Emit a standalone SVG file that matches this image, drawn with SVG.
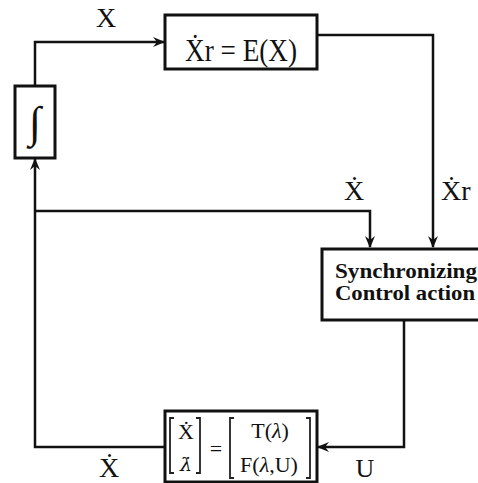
<svg xmlns="http://www.w3.org/2000/svg" width="478" height="483" viewBox="0 0 478 483">
<style>
.box{fill:#fff;stroke:#111;stroke-width:3}
.ln{fill:none;stroke:#111;stroke-width:2.5}
.t{font-family:"Liberation Serif","DejaVu Serif",serif;fill:#111}
.b{font-family:"Liberation Serif","DejaVu Serif",serif;font-weight:bold;fill:#111;font-size:20px}
.br{fill:none;stroke:#222;stroke-width:1.8}
</style>
<defs>
<marker id="ah" viewBox="0 0 12 10" refX="11" refY="5" markerWidth="12" markerHeight="10" markerUnits="userSpaceOnUse" orient="auto">
<path d="M0,0 L12,5 L0,10 L4,5 z" fill="#111"/>
</marker>
</defs>
<g id="connectors">
<path class="ln" d="M35,86 V42 H164" marker-end="url(#ah)"/>
<path class="ln" d="M317,35 H433 V247" marker-end="url(#ah)"/>
<path class="ln" d="M165,447 H35 V159" marker-end="url(#ah)"/>
<path class="ln" d="M35,211 H370 V247" marker-end="url(#ah)"/>
<path class="ln" d="M404,321 V447 H318" marker-end="url(#ah)"/>
</g>
<g id="labels">
<text class="t" x="106" y="27" font-size="28" text-anchor="middle">X</text>
<text class="t" x="354" y="200" font-size="28" text-anchor="middle">Ẋ</text>
<text class="t" x="441" y="200" font-size="28">Ẋr</text>
<text class="t" x="365" y="477" font-size="26" text-anchor="middle">U</text>
<text class="t" x="109" y="477" font-size="28" text-anchor="middle">Ẋ</text>
</g>
<g id="node-model">
<rect class="box" x="165" y="15" width="152" height="54"/>
<text class="t" x="241" y="61" font-size="31" text-anchor="middle" textLength="112" lengthAdjust="spacingAndGlyphs">Ẋr = E(X)</text>
</g>
<g id="node-integral">
<rect class="box" x="15" y="86" width="40" height="72"/>
<text class="t" x="35" y="137" font-size="44" text-anchor="middle">∫</text>
</g>
<g id="node-sync">
<rect class="box" x="322" y="249" width="162" height="71"/>
<text class="b" x="335" y="278" textLength="142" lengthAdjust="spacingAndGlyphs">Synchronizing</text>
<text class="b" x="335" y="300" textLength="140" lengthAdjust="spacingAndGlyphs">Control action</text>
</g>
<g id="node-system">
<rect class="box" x="165" y="411" width="152" height="71"/>
<path class="br" d="M174,418 H170 V473 H174"/>
<path class="br" d="M196,418 H200 V473 H196"/>
<path class="br" d="M234,418 H230 V478 H234"/>
<path class="br" d="M306,418 H310 V478 H306"/>
<text class="t" x="186" y="439" font-size="22" text-anchor="middle">Ẋ</text>
<text x="186" y="471" font-size="19" font-style="italic" text-anchor="middle" style="font-family:'DejaVu Serif',serif;fill:#111">λ̇</text>
<text class="t" x="216" y="456" font-size="22" text-anchor="middle">=</text>
<text class="t" x="270" y="438" font-size="22" text-anchor="middle">T(<tspan font-style="italic">λ</tspan>)</text>
<text class="t" x="269" y="472" font-size="22" text-anchor="middle">F(<tspan font-style="italic">λ</tspan>,U)</text>
</g>
</svg>
